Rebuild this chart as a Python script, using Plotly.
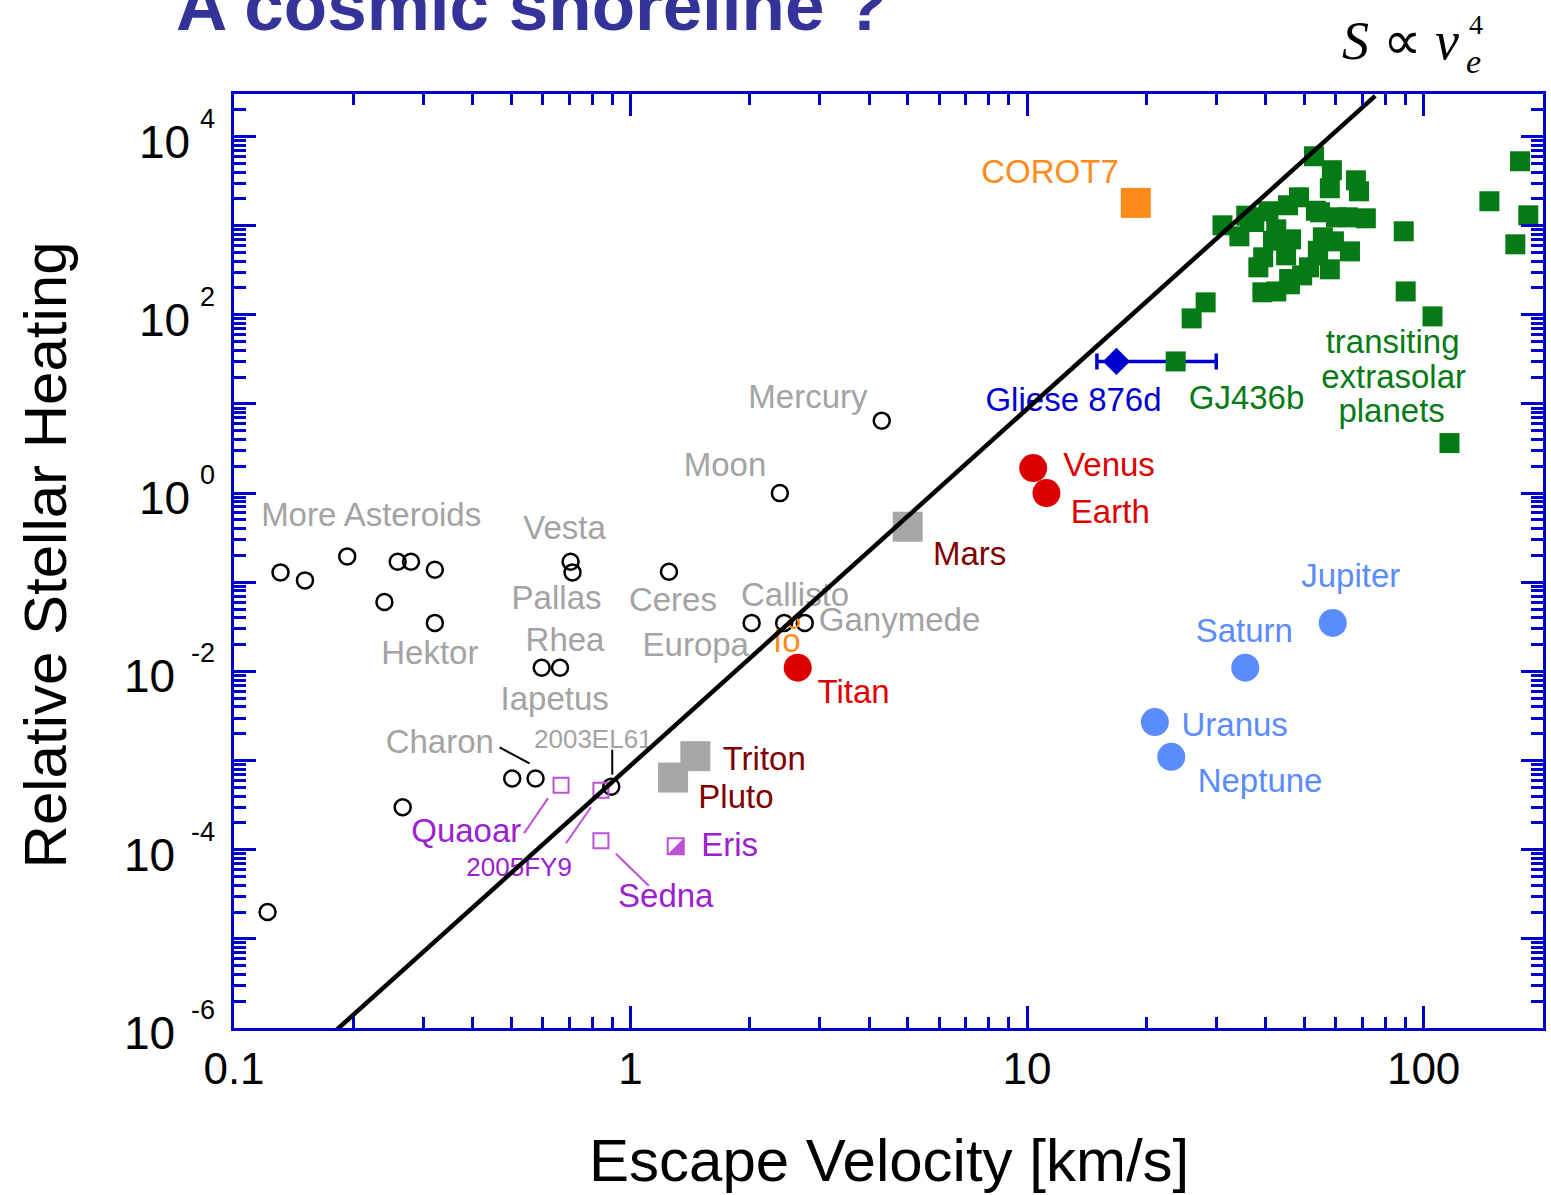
import numpy as np
import plotly.graph_objects as go

# ---------------------------------------------------------------- data
# escape velocity [km/s] vs. stellar heating relative to Earth

# unlabelled asteroids / small bodies (open circles)
ast_v = [0.1215, 0.131, 0.151, 0.193, 0.2395, 0.2587, 0.2795, 0.321, 0.2663, 0.503]
ast_S = [2.0e-5, 0.129, 0.105, 0.195, 0.060, 0.170, 0.170, 0.138, 3.0e-4, 6.3e-4]

# labelled airless bodies (open circles)
airless_names = ["Mercury", "Moon", "Vesta", "Pallas", "Ceres", "Hektor", "Europa",
                 "Callisto", "Ganymede", "Rhea", "Iapetus", "Charon", "2003EL61"]
airless_v = [4.3, 2.38, 0.706, 0.714, 1.25, 0.321, 2.02, 2.44, 2.75, 0.664, 0.597, 0.576, 0.894]
airless_S = [6.5, 1.0, 0.170, 0.129, 0.131, 0.035, 0.035, 0.035, 0.035, 0.011, 0.011, 6.3e-4, 5.1e-4]

# thick atmospheres
atm_names = ["Venus", "Earth", "Titan"]
atm_v = [10.36, 11.19, 2.64]
atm_S = [1.91, 1.0, 0.011]

# thin atmospheres
thin_names = ["Mars", "Triton", "Pluto"]
thin_v = [5.0, 1.457, 1.28]
thin_S = [0.42, 1.12e-3, 6.45e-4]

# giant planets
giant_names = ["Jupiter", "Saturn", "Uranus", "Neptune"]
giant_v = [59.0, 35.5, 21.0, 23.1]
giant_S = [0.035, 0.011, 2.7e-3, 1.1e-3]

# Kuiper belt objects
kbo_names = ["Quaoar", "2005FY9", "Sedna"]
kbo_v = [0.668, 0.842, 0.842]
kbo_S = [5.3e-4, 4.65e-4, 1.26e-4]

eris_v, eris_S = 1.30, 1.09e-4
io_v, io_S = 2.58, 0.035
corot_v, corot_S = 18.8, 1800.0
gliese_v, gliese_S = 16.8, 30.0
gliese_v_lo, gliese_v_hi = 15.0, 30.0
gj436_v, gj436_S = 23.7, 30.0

# transiting extrasolar planets
transit_v = [52.9, 58.7, 67.5, 58.0, 68.7, 175.0, 146.5, 183.6, 170.3, 89.1,
             31.1, 34.3, 36.5, 40.6, 45.5, 48.5, 54.8, 60.1, 64.4, 71.5,
             42.5, 46.3, 55.7, 59.4, 65.2, 38.3, 39.4, 45.0, 54.2, 58.0,
             51.4, 49.4, 46.0, 39.2, 42.5, 90.1, 28.2, 26.0, 105.3, 116.2,
             35.7, 37.4, 41.7, 54.1, 45.8, 53.5]
transit_S = [6010, 4190, 3230, 2630, 2430, 5280, 1880, 1306, 618, 865,
             1010, 760, 1241, 1450, 1694, 2082, 1413, 1241, 1241, 1210,
             910, 703, 740, 667, 515, 341, 442, 465, 465, 324,
             341, 277, 220, 179, 183, 183, 138, 91.2, 96, 3.64,
             1294, 1099, 678, 523, 252, 1471]

# cosmic shoreline  S = C * v^4
shore_C = 8.8e-4
shore_exp = 4
shore_v = [0.15, 75.5]

# axis ticks
x_tick_vals = [0.1, 1, 10, 100]
x_tick_text = ["0.1", "1", "10", "100"]
y_label_exps = [4, 2, 0, -2, -4, -6]

# ---------------------------------------------------------------- style
W, H = 1551, 1195
ML, MR, MT, MB = 234, 5, 94, 167
XR = [-1.0, np.log10(200)]
YR = [-6.0, np.log10(3e4)]
PPD_X = (W - ML - MR) / (XR[1] - XR[0])
PPD_Y = (H - MT - MB) / (YR[1] - YR[0])

AXIS = "#0000CC"
GREY = "#A3A3A3"
DKRED = "#800000"
RED = "#DD0000"
LBLUE = "#5B8CFF"
GREEN = "#067A14"
ORANGE = "#FF8C1A"
PURPLE = "#9A22D0"
PURPLE_MK = "#BE50D8"
FONT = "Liberation Sans, Arial, sans-serif"
SERIF = "Liberation Serif, Times New Roman, serif"


def offset(v, s, dx, dy):
    """Shift a data point by (dx, dy) screen pixels (dy positive downwards)."""
    return (10 ** (np.log10(v) + dx / PPD_X), 10 ** (np.log10(s) - dy / PPD_Y))


pos = {}
for names, vs, ss in [(airless_names, airless_v, airless_S), (atm_names, atm_v, atm_S),
                      (thin_names, thin_v, thin_S), (giant_names, giant_v, giant_S),
                      (kbo_names, kbo_v, kbo_S)]:
    for n, v, s in zip(names, vs, ss):
        pos[n] = (v, s)
pos["Eris"] = (eris_v, eris_S)
pos["Io"] = (io_v, io_S)
pos["COROT7"] = (corot_v, corot_S)
pos["Gliese 876d"] = (gliese_v, gliese_S)
pos["GJ436b"] = (gj436_v, gj436_S)
pos["asteroids"] = (ast_v[3], ast_S[3])
pos["transits"] = (transit_v[38], transit_S[38])

# (text, anchor, dx, dy, colour, size)
labels = [
    ("Mercury", "Mercury", -74, -21, GREY, 33),
    ("Moon", "Moon", -55, -25, GREY, 33),
    ("Vesta", "Vesta", -6, -31, GREY, 33),
    ("Pallas", "Pallas", -16, 28, GREY, 33),
    ("Ceres", "Ceres", 4, 31, GREY, 33),
    ("Callisto", "Callisto", 11, -25, GREY, 33),
    ("Ganymede", "Ganymede", 95, 0, GREY, 33),
    ("Europa", "Europa", -56, 25, GREY, 33),
    ("Io", "Io", -7, 21, ORANGE, 33),
    ("Titan", "Titan", 56, 27, RED, 33),
    ("Rhea", "Rhea", 5, -25, GREY, 33),
    ("Iapetus", "Iapetus", 13, 34, GREY, 33),
    ("Hektor", "Hektor", -5, 33, GREY, 33),
    ("More Asteroids", "asteroids", 24, -39, GREY, 33),
    ("Charon", "Charon", -96, -34, GREY, 33),
    ("2003EL61", "2003EL61", -18, -45, GREY, 26),
    ("Triton", "Triton", 69, 6, DKRED, 33),
    ("Pluto", "Pluto", 63, 22, DKRED, 33),
    ("Quaoar", "Quaoar", -95, 49, PURPLE, 33),
    ("2005FY9", "2005FY9", -82, 79, PURPLE, 26),
    ("Sedna", "Sedna", 65, 58, PURPLE, 33),
    ("Eris", "Eris", 54, 1, PURPLE, 33),
    ("Mars", "Mars", 62, 30, DKRED, 33),
    ("Venus", "Venus", 76, 0, RED, 33),
    ("Earth", "Earth", 64, 22, RED, 33),
    ("Jupiter", "Jupiter", 18, -44, LBLUE, 33),
    ("Saturn", "Saturn", -1, -34, LBLUE, 33),
    ("Uranus", "Uranus", 80, 6, LBLUE, 33),
    ("Neptune", "Neptune", 89, 27, LBLUE, 33),
    ("COROT7", "COROT7", -86, -28, ORANGE, 33),
    ("Gliese 876d", "Gliese 876d", -43, 41, AXIS, 33),
    ("GJ436b", "GJ436b", 71, 39, GREEN, 33),
    ("transiting", "transits", -40, 28, GREEN, 33),
    ("extrasolar", "transits", -39, 63, GREEN, 33),
    ("planets", "transits", -41, 97, GREEN, 33),
]

# leader lines: anchor, start (dx, dy), end (dx, dy), colour
leaders = [
    ("Charon", (-36, -31), (-6, -15), "black"),
    ("2003EL61", (1, -37), (1, -12), "black"),
    ("Quaoar", (-13, 13), (-37, 48), PURPLE_MK),
    ("2005FY9", (-10, 17), (-35, 53), PURPLE_MK),
    ("Sedna", (15, 13), (48, 45), PURPLE_MK),
]

fig = go.Figure()

# leader lines
for name, a, b, col in leaders:
    v, s = pos[name]
    p0 = offset(v, s, *a)
    p1 = offset(v, s, *b)
    fig.add_trace(go.Scatter(x=[p0[0], p1[0]], y=[p0[1], p1[1]], mode="lines",
                             line=dict(color=col, width=2), hoverinfo="skip"))

open_circle = dict(symbol="circle-open", size=16, color="black", line=dict(width=2.5))
fig.add_trace(go.Scatter(x=ast_v, y=ast_S, mode="markers", marker=open_circle))
fig.add_trace(go.Scatter(x=airless_v, y=airless_S, mode="markers", marker=open_circle,
                         text=airless_names))
fig.add_trace(go.Scatter(x=[io_v], y=[io_S], mode="markers",
                         marker=dict(symbol="circle-open", size=10, color=ORANGE,
                                     line=dict(width=2.5))))

# Kuiper belt objects
fig.add_trace(go.Scatter(x=kbo_v, y=kbo_S, mode="markers", text=kbo_names,
                         marker=dict(symbol="square-open", size=15, color=PURPLE_MK,
                                     line=dict(width=2))))
# Eris: half-filled square
ev = [offset(eris_v, eris_S, dx, dy) for dx, dy in [(8, -8), (8, 8), (-8, 8), (8, -8)]]
fig.add_trace(go.Scatter(x=[p[0] for p in ev], y=[p[1] for p in ev], mode="lines",
                         fill="toself", fillcolor=PURPLE_MK, line=dict(width=0),
                         hoverinfo="skip"))
fig.add_trace(go.Scatter(x=[eris_v], y=[eris_S], mode="markers",
                         marker=dict(symbol="square-open", size=16, color=PURPLE_MK,
                                     line=dict(width=2))))

fig.add_trace(go.Scatter(x=thin_v, y=thin_S, mode="markers", text=thin_names,
                         marker=dict(symbol="square", size=30, color="#A6A6A6")))
fig.add_trace(go.Scatter(x=atm_v, y=atm_S, mode="markers", text=atm_names,
                         marker=dict(symbol="circle", size=28, color=RED)))
fig.add_trace(go.Scatter(x=giant_v, y=giant_S, mode="markers", text=giant_names,
                         marker=dict(symbol="circle", size=28, color=LBLUE)))

fig.add_trace(go.Scatter(x=transit_v, y=transit_S, mode="markers",
                         marker=dict(symbol="square", size=20, color=GREEN)))
fig.add_trace(go.Scatter(x=[corot_v], y=[corot_S], mode="markers",
                         marker=dict(symbol="square", size=30, color=ORANGE)))

fig.add_trace(go.Scatter(
    x=[gliese_v], y=[gliese_S], mode="markers",
    marker=dict(symbol="diamond", size=21, color=AXIS),
    error_x=dict(type="data", symmetric=False,
                 array=[gliese_v_hi - gliese_v], arrayminus=[gliese_v - gliese_v_lo],
                 color=AXIS, thickness=3.5, width=8)))
fig.add_trace(go.Scatter(x=[gj436_v], y=[gj436_S], mode="markers",
                         marker=dict(symbol="square", size=20, color=GREEN)))

# text labels
for text, anchor, dx, dy, col, size in labels:
    v, s = pos[anchor]
    lx, ly = offset(v, s, dx, dy)
    fig.add_trace(go.Scatter(x=[lx], y=[ly], mode="text", text=[text],
                             textposition="middle center",
                             textfont=dict(family=FONT, size=size, color=col),
                             hoverinfo="skip"))

# shoreline
sv = np.array(shore_v)
fig.add_trace(go.Scatter(x=sv, y=shore_C * sv ** shore_exp, mode="lines",
                         line=dict(color="black", width=4.5)))

# ---------------------------------------------------------------- axes
x_minor = [m * 10.0 ** k for k in range(-1, 3) for m in range(2, 10) if m * 10.0 ** k < 200]
y_minor = [m * 10.0 ** k for k in range(-6, 5) for m in range(2, 10) if m * 10.0 ** k < 3e4]

axis_common = dict(showline=True, linecolor=AXIS, linewidth=3, mirror="ticks",
                   ticks="inside", ticklen=22, tickwidth=2.5, tickcolor=AXIS,
                   showgrid=False, zeroline=False)
fig.update_xaxes(type="log", range=XR, tickvals=x_tick_vals, ticktext=x_tick_text,
                 tickfont=dict(family=FONT, size=44, color="black"),
                 minor=dict(tickvals=x_minor, ticks="inside", ticklen=11,
                            tickwidth=2.5, tickcolor=AXIS, showgrid=False),
                 **axis_common)
fig.update_yaxes(type="log", range=YR, tickvals=[10.0 ** k for k in range(-6, 5)],
                 showticklabels=False,
                 minor=dict(tickvals=y_minor, ticks="inside", ticklen=12,
                            tickwidth=2.5, tickcolor=AXIS, showgrid=False),
                 **axis_common)

annotations = []
# y tick labels: "10" with raised exponent
for k in y_label_exps:
    exp_txt = str(k)
    exp_w = 15 if k >= 0 else 30
    annotations.append(dict(xref="paper", yref="y", x=(217 - ML) / (W - ML - MR), y=k,
                            text=exp_txt, showarrow=False, xanchor="right",
                            yanchor="middle", yshift=18,
                            font=dict(family=FONT, size=27, color="black")))
    annotations.append(dict(xref="paper", yref="y",
                            x=(217 - exp_w - 10 - ML) / (W - ML - MR), y=k,
                            text="10", showarrow=False, xanchor="right",
                            yanchor="middle", yshift=-5,
                            font=dict(family=FONT, size=46, color="black")))


def px(xp):
    return (xp - ML) / (W - ML - MR)


def py(yp):
    return (H - MB - yp) / (H - MT - MB)


annotations += [
    dict(xref="paper", yref="paper", x=px(890), y=py(1160), text="Escape Velocity [km/s]",
         showarrow=False, xanchor="center", yanchor="middle",
         font=dict(family=FONT, size=60, color="black")),
    dict(xref="paper", yref="paper", x=px(45), y=py(555), text="Relative Stellar Heating",
         showarrow=False, xanchor="center", yanchor="middle", textangle=-90,
         font=dict(family=FONT, size=60, color="black")),
    dict(xref="paper", yref="paper", x=px(174), y=py(6), text="<b>A cosmic shoreline ?</b>",
         showarrow=False, xanchor="left", yanchor="middle",
         font=dict(family=FONT, size=71, color="#333399")),
    dict(xref="paper", yref="paper", x=px(1343), y=py(41), text="<i>S</i> \u221d <i>v</i>",
         showarrow=False, xanchor="left", yanchor="middle",
         font=dict(family=SERIF, size=54, color="black")),
    dict(xref="paper", yref="paper", x=px(1470), y=py(24), text="4",
         showarrow=False, xanchor="left", yanchor="middle",
         font=dict(family=SERIF, size=28, color="black")),
    dict(xref="paper", yref="paper", x=px(1467), y=py(62), text="<i>e</i>",
         showarrow=False, xanchor="left", yanchor="middle",
         font=dict(family=SERIF, size=34, color="black")),
]

fig.update_layout(width=W, height=H, margin=dict(l=ML, r=MR, t=MT, b=MB),
                  paper_bgcolor="white", plot_bgcolor="white", showlegend=False,
                  annotations=annotations)

fig.write_html("out.html")
